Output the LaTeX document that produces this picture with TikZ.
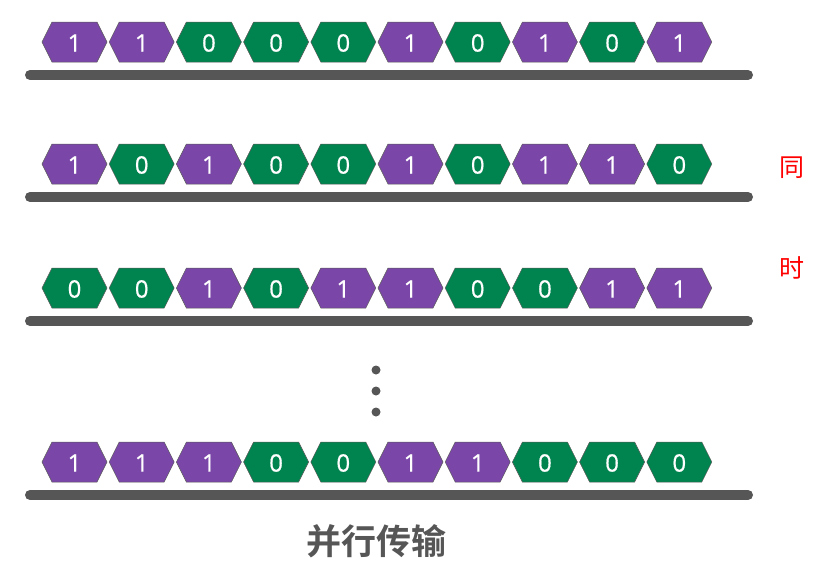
\documentclass[tikz,border=0pt]{standalone}
\usepackage{fontspec}
\setsansfont{Open Sans}
\newfontfamily\digitfont[FakeBold=0.6]{Open Sans}
\newfontfamily\cjk{Noto Sans CJK SC}
\newfontfamily\cjkb{Noto Sans CJK SC Bold}
\definecolor{bitpurple}{HTML}{7A46A8}
\definecolor{bitgreen}{HTML}{00844F}
\definecolor{bargray}{HTML}{565656}
\definecolor{edgegray}{HTML}{5A5A5A}
\tikzset{
  bone/.style={fill=bitpurple},
  bzero/.style={fill=bitgreen},
  hexedge/.style={draw=edgegray,line width=0.5pt},
  bittext/.style={text=white,font=\digitfont\fontsize{24}{24}\selectfont,inner sep=0pt},
  busbar/.style={draw=bargray,line width=10pt,line cap=round},
  dotmark/.style={fill=bargray,draw=none,circle,minimum size=9pt,inner sep=0pt},
}
\begin{document}
\begin{tikzpicture}[x=1pt,y=-1pt]
\useasboundingbox (0,0) rectangle (840,565);
\foreach \bits/\yc/\r in {{1,1,0,0,0,1,0,1,0,1}/42/a,{1,0,1,0,0,1,0,1,1,0}/164/b,{0,0,1,0,1,1,0,0,1,1}/288/c,{1,1,1,0,0,1,1,0,0,0}/462/d}{
  \foreach \b [count=\i] in \bits {
    \pgfmathsetmacro\xc{74.5+(\i-1)*67.2}
    \ifnum\b=1 \def\bst{bone}\else \def\bst{bzero}\fi
    \path[hexedge,\bst] (\xc-32.5,\yc) -- (\xc-22.5,\yc-20) -- (\xc+22.5,\yc-20)
      -- (\xc+32.5,\yc) -- (\xc+22.5,\yc+20) -- (\xc-22.5,\yc+20) -- cycle;
    \node[bittext] (\r\i) at (\xc,\yc+1) {\b};
  }
  \coordinate (\r L) at (30,\yc+33);
  \coordinate (\r R) at (748,\yc+33);
  \draw[busbar] (\r L) -- (\r R);
}
\node[dotmark] (d1) at (376,370) {};
\node[dotmark] (d2) at (376,391) {};
\node[dotmark] (d3) at (376,412) {};
\node[text=red,font=\cjk\fontsize{25}{25}\selectfont] (tong) at (792,168) {同};
\node[text=red,font=\cjk\fontsize{25}{25}\selectfont] (shi) at (792,268) {时};
\node[text=bargray,font=\cjkb\fontsize{35}{35}\selectfont] (title) at (376,541) {并行传输};
\end{tikzpicture}
\end{document}
